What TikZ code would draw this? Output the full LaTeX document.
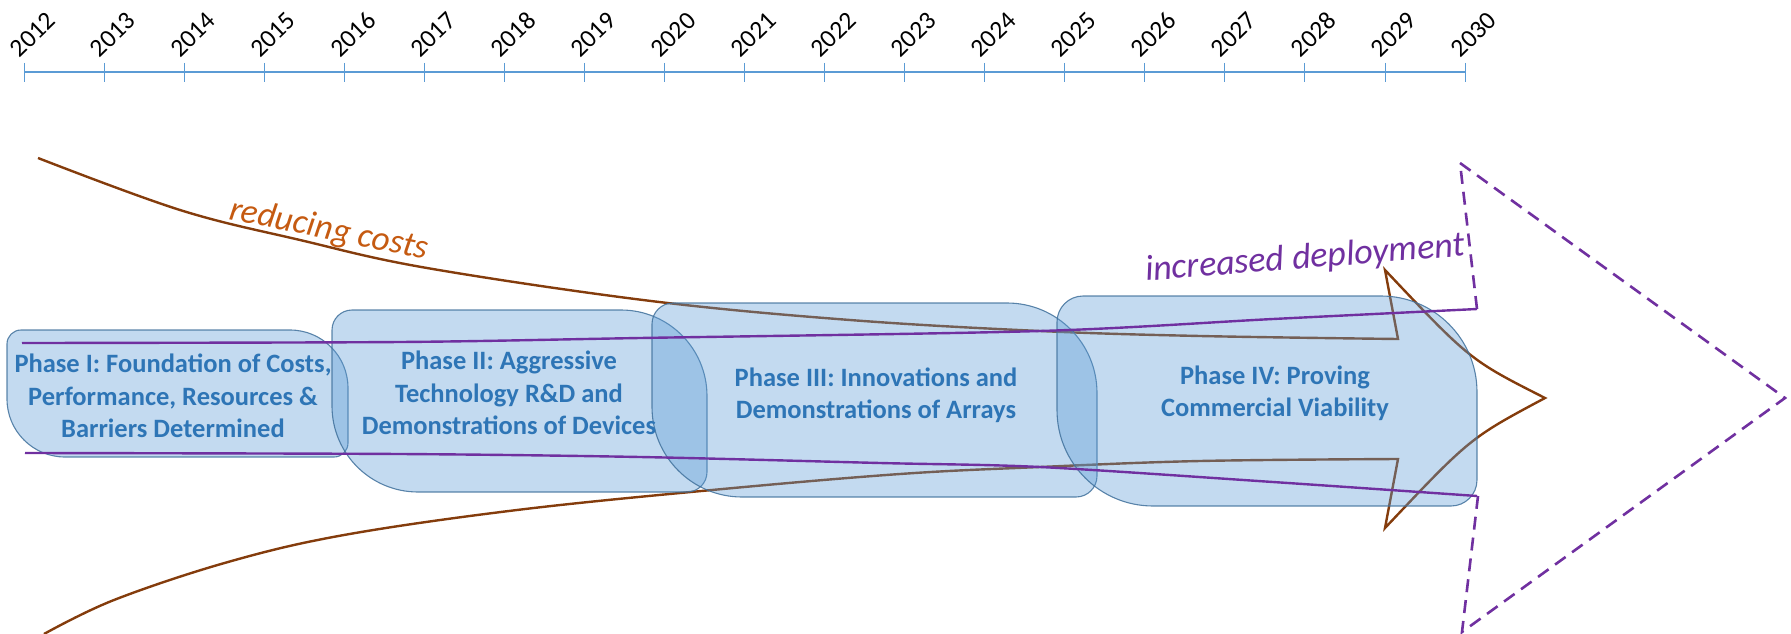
\documentclass[tikz,border=0pt]{standalone}
\usepackage{fontspec}
\setmainfont{Carlito}
\definecolor{axisblue}{RGB}{91,155,213}
\definecolor{boxfill}{RGB}{91,155,213}
\definecolor{boxline}{RGB}{65,113,156}
\definecolor{phasetext}{RGB}{46,117,182}
\definecolor{costbrown}{RGB}{132,60,12}
\definecolor{costtext}{RGB}{197,90,17}
\definecolor{deppurple}{RGB}{112,48,160}
\tikzset{
  phasebox/.style={fill=boxfill, fill opacity=0.37, draw=boxline, draw opacity=0.85, line width=1.1pt},
  phasetxt/.style={text=phasetext, font=\bfseries\fontsize{26.5}{32.3}\selectfont, align=center, inner sep=0pt},
  yearlbl/.style={font=\fontsize{25.5}{30}\selectfont, rotate=44, anchor=south west, inner sep=0pt},
  axisline/.style={draw=axisblue, line width=2.4pt},
  yeartick/.style={draw=axisblue, line width=1pt},
  costline/.style={draw=costbrown, line width=2.4pt, line join=miter},
  depline/.style={draw=deppurple, line width=2.4pt},
  depdash/.style={draw=deppurple, line width=2.6pt, dash pattern=on 13pt off 8pt},
  costlbl/.style={text=costtext, font=\itshape\fontsize{35}{42}\selectfont, inner sep=0pt},
  deplbl/.style={text=deppurple, font=\itshape\fontsize{36}{43}\selectfont, inner sep=0pt}
}
% x1 y1 x2 y2 (y1 top, y2 bottom), small radius, big radius
\newcommand\phaseshape[6]{%
  \path[phasebox] ({#1+#5},#2) -- ({#3-#6},#2)
    .. controls ({#3-0.4477*#6},#2) and (#3,{#2+0.4477*#6}) .. (#3,{#2+#6})
    -- (#3,{#4-#5})
    .. controls (#3,{#4-0.4477*#5}) and ({#3-0.4477*#5},#4) .. ({#3-#5},#4)
    -- ({#1+#6},#4)
    .. controls ({#1+0.4477*#6},#4) and (#1,{#4-0.4477*#6}) .. (#1,{#4-#6})
    -- (#1,{#2+#5})
    .. controls (#1,{#2+0.4477*#5}) and ({#1+0.4477*#5},#2) .. ({#1+#5},#2) -- cycle;}
\begin{document}
\begin{tikzpicture}[x=1pt,y=-1pt]
\useasboundingbox (0,0) rectangle (1791,634);
% timeline
\coordinate (axL) at (24,72);
\coordinate (axR) at (1465,72);
\draw[axisline] (axL) -- (axR);
\foreach \i [evaluate=\i as \yr using int(2012+\i)] in {0,...,18}{
  \draw[yeartick] ({24+80.06*\i},63) -- ({24+80.06*\i},82);
  \node[yearlbl] (y\i) at ({20+80.06*\i},59) {\yr};
}
% reducing costs arrow (below boxes)
\draw[costline] plot[smooth, tension=0.6] coordinates {(38,158) (180,210) (300,240) (427,268) (651,301) (850,320) (1040,331) (1200,336) (1398,339)}
  -- (1385,270) .. controls (1470,360) .. (1545,398)
  .. controls (1470,438) .. (1385,528) -- (1398,459)
  -- plot[smooth, tension=0.6] coordinates {(1398,459) (1200,461) (1040,467) (900,474) (712,490) (517,510) (344,535) (228,562) (114,600) (44,634)};
% phase boxes
\phaseshape{7}{330}{348}{457}{14}{58}
\phaseshape{332}{310}{707}{492}{20}{86}
\phaseshape{652}{303}{1097}{497}{21}{90}
\phaseshape{1057}{296}{1477}{506}{26}{96}
% increased deployment
\draw[depline] plot[smooth] coordinates {(22,343) (400,342) (640,338) (1040,331) (1273,319) (1477,309)};
\draw[depline] plot[smooth] coordinates {(25,453) (400,454) (640,457) (880,463) (1040,467) (1273,482) (1477,496)};
\draw[depdash] (1477,309) -- (1460,163) -- (1785,398) -- (1462,632) -- (1478,496);
% labels
\node[costlbl, rotate=-11.5, anchor=base west] (rc) at (228,219) {reducing costs};
\node[deplbl, rotate=4.5, anchor=base west] (id) at (1146,281) {increased deployment};
\node[phasetxt] (p1) at (173,396) {Phase I: Foundation of Costs,\\Performance, Resources \&\\Barriers Determined};
\node[phasetxt] (p2) at (509,393) {Phase II: Aggressive\\Technology R\&D and\\Demonstrations of Devices};
\node[phasetxt] (p3) at (876,395) {Phase III: Innovations and\\Demonstrations of Arrays};
\node[phasetxt] (p4) at (1275,393) {Phase IV: Proving\\Commercial Viability};
\end{tikzpicture}
\end{document}
